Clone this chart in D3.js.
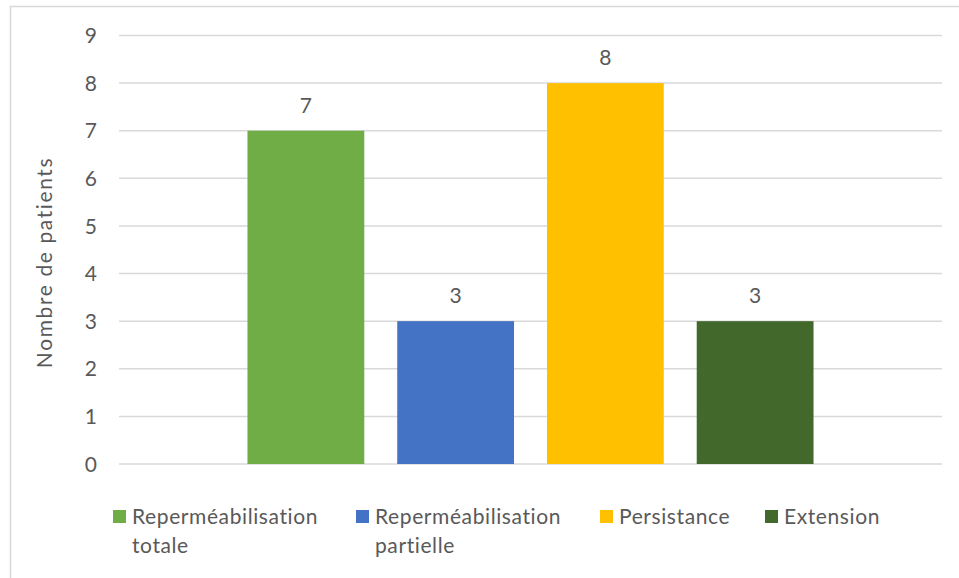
<!DOCTYPE html>
<html>
<head>
<meta charset="utf-8">
<script src="https://cdn.jsdelivr.net/npm/d3@7"></script>
<style>
  html, body { margin: 0; padding: 0; background: #fff; }
  svg { display: block; }
  text { font-family: Lato, "Open Sans", sans-serif; fill: #595959; }
</style>
</head>
<body>
<svg id="chart" width="959" height="578"></svg>
<script>
// Outcome counts per group
const seriesNames = ["Reperméabilisation totale", "Reperméabilisation partielle", "Persistance", "Extension"];
const legendLines = [["Reperméabilisation", "totale"], ["Reperméabilisation", "partielle"], ["Persistance"], ["Extension"]];
const values = [7, 3, 8, 3];
const colors = ["#70AD47", "#4472C4", "#FFC000", "#43682B"];
const yTicks = [0, 1, 2, 3, 4, 5, 6, 7, 8, 9];
const yTitle = "Nombre de patients";

const svg = d3.select("#chart");
const W = 959, H = 578;
const plot = { left: 119, right: 942, top: 35.5, bottom: 464 };

// outer frame
svg.append("rect")
  .attr("x", 10.5).attr("y", 6.5)
  .attr("width", W).attr("height", H)
  .attr("fill", "none").attr("stroke", "#d9d9d9").attr("stroke-width", 1.5);

const y = d3.scaleLinear().domain([0, 9]).range([plot.bottom, plot.top]);

// one category, four series side by side
const x0 = d3.scaleBand().domain([""]).range([plot.left, plot.right]).paddingInner(0).paddingOuter(0.187);
const x1 = d3.scaleBand().domain(seriesNames).range([0, x0.bandwidth()]).paddingInner(0.22).paddingOuter(0.11);

// gridlines
svg.append("g").selectAll("line").data(yTicks).join("line")
  .attr("x1", plot.left).attr("x2", plot.right)
  .attr("y1", d => y(d)).attr("y2", d => y(d))
  .attr("stroke", "#d9d9d9").attr("stroke-width", 1.5);

// y tick labels
svg.append("g").selectAll("text").data(yTicks).join("text")
  .attr("x", 97).attr("y", d => y(d))
  .attr("dy", "0.36em")
  .attr("text-anchor", "end")
  .attr("font-size", 21)
  .text(d => d);

// y axis title
svg.append("text")
  .attr("transform", "translate(52,262.5) rotate(-90)")
  .attr("text-anchor", "middle")
  .attr("font-size", 21)
  .attr("letter-spacing", 1.6)
  .text(yTitle);

// bars
const bars = svg.append("g");
bars.selectAll("rect").data(seriesNames).join("rect")
  .attr("x", (d) => x0("") + x1(d))
  .attr("width", x1.bandwidth())
  .attr("y", (d, i) => y(values[i]))
  .attr("height", (d, i) => y(0) - y(values[i]))
  .attr("fill", (d, i) => colors[i]);

// value labels
svg.append("g").selectAll("text").data(seriesNames).join("text")
  .attr("x", d => x0("") + x1(d) + x1.bandwidth() / 2)
  .attr("y", (d, i) => y(values[i]) - 18)
  .attr("text-anchor", "middle")
  .attr("font-size", 21)
  .text((d, i) => values[i]);

// legend
const legendX = [113, 356, 600, 765];
const legend = svg.append("g");
seriesNames.forEach((name, i) => {
  const g = legend.append("g").attr("transform", `translate(${legendX[i]},510)`);
  g.append("rect").attr("x", 0).attr("y", 0).attr("width", 13).attr("height", 13).attr("fill", colors[i]);
  const t = g.append("text").attr("x", 19).attr("y", 14).attr("font-size", 21).attr("letter-spacing", 0.6);
  legendLines[i].forEach((line, j) => {
    t.append("tspan").attr("x", 19).attr("dy", j === 0 ? 0 : 29).text(line);
  });
});
</script>
</body>
</html>
